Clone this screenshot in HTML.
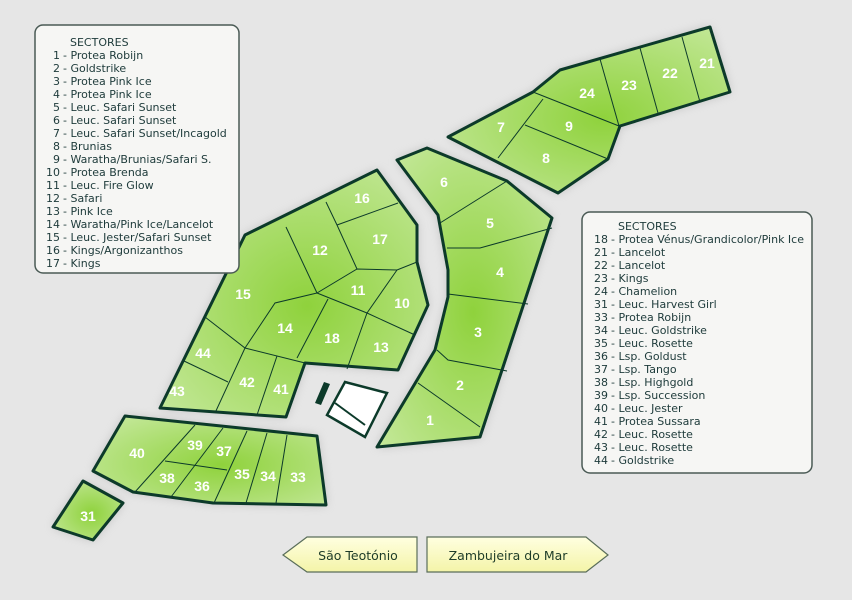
<!DOCTYPE html>
<html><head><meta charset="utf-8"><style>
html,body{margin:0;padding:0;background:#e6e6e6;}
svg{display:block;}
.l{font-family:"DejaVu Sans","Liberation Sans",sans-serif;font-size:11px;fill:#1d3a3a;}
.n{font-family:"Liberation Sans",sans-serif;font-weight:bold;font-size:14px;fill:#fff;text-anchor:middle;}
.b{font-family:"DejaVu Sans","Liberation Sans",sans-serif;font-size:12.5px;fill:#1e3c28;text-anchor:middle;}
</style></head><body>
<svg width="852" height="600" viewBox="0 0 852 600" xmlns="http://www.w3.org/2000/svg">
<defs>
<radialGradient id="g" cx="0.55" cy="0.55" r="0.7"><stop offset="0" stop-color="#8fd23c"/><stop offset="1" stop-color="#c4e89a"/></radialGradient>
<linearGradient id="y" x1="0" y1="0" x2="0" y2="1"><stop offset="0" stop-color="#ffffe0"/><stop offset="1" stop-color="#f4f4a8"/></linearGradient>
<filter id="sh" x="-10%" y="-10%" width="120%" height="120%"><feGaussianBlur stdDeviation="5"/></filter>
</defs>
<rect width="852" height="600" fill="#e6e6e6"/>
<g fill="#9a9a9a" opacity="0.55" filter="url(#sh)">
<polygon points="377,170 417,225 417,262 428,305 398,370 305,363 286,417 160,408 245,235"/>
<polygon points="125,416 317,436 326,505 213,503 133,492 93,471"/>
<polygon points="83,481 123,503 93,540 53,527"/>
<polygon points="710,27 730,92 620,126 608,159 558,193 448,137 533,92 560,70"/>
<polygon points="427,148 507,181 552,218 480,437 377,447 435,350 448,297 448,270 438,215 397,160"/>
</g>
<g stroke="#0c3a2a" stroke-width="3" stroke-linejoin="round" fill="url(#g)">
<polygon points="377,170 417,225 417,262 428,305 398,370 305,363 286,417 160,408 245,235"/>
<polygon points="125,416 317,436 326,505 213,503 133,492 93,471"/>
<polygon points="83,481 123,503 93,540 53,527"/>
<polygon points="710,27 730,92 620,126 608,159 558,193 448,137 533,92 560,70"/>
<polygon points="427,148 507,181 552,218 480,437 377,447 435,350 448,297 448,270 438,215 397,160"/>
</g>
<g stroke="#0c3a2a" stroke-width="1" fill="none">
<polyline points="337,225 398,203"/>
<polyline points="326,202 337,225 357,269"/>
<polyline points="286,227 317,293"/>
<polyline points="317,293 357,269 397,270 417,262"/>
<polyline points="397,270 367,313"/>
<polyline points="317,293 367,313 415,335"/>
<polyline points="317,293 275,303 245,348"/>
<polyline points="328,299 297,358"/>
<polyline points="367,313 347,369"/>
<polyline points="205,317 245,348 305,363"/>
<polyline points="184,361 228,382"/>
<polyline points="245,348 215,413"/>
<polyline points="277,356 257,415"/>
<polyline points="195,425 135,492"/>
<polyline points="223,428 171,497"/>
<polyline points="247,431 214,503"/>
<polyline points="267,433 246,503"/>
<polyline points="287,435 276,503"/>
<polyline points="165,461 227,470"/>
<polyline points="682,37 700,102"/>
<polyline points="640,48 658,113"/>
<polyline points="600,59 619,126"/>
<polyline points="533,92 619,126"/>
<polyline points="543,99 498,158"/>
<polyline points="525,125 608,159"/>
<polyline points="507,181 440,223"/>
<polyline points="447,248 480,248 552,228"/>
<polyline points="448,294 528,304"/>
<polyline points="437,350 448,360 507,371"/>
<polyline points="418,383 480,427"/>
</g>
<polygon points="315,403 321,405 330,384 324,382" fill="#0c3a2a"/>
<polygon points="345,382 387,393 365,437 327,415" fill="#fff" stroke="#0c3a2a" stroke-width="2.5"/>
<line x1="335" y1="403" x2="365" y2="425" stroke="#0c3a2a" stroke-width="2"/>
<g class="n">
<text x="362" y="203">16</text><text x="320" y="255">12</text><text x="380" y="244">17</text>
<text x="358" y="295">11</text><text x="402" y="308">10</text><text x="243" y="299">15</text>
<text x="285" y="333">14</text><text x="332" y="343">18</text><text x="381" y="352">13</text>
<text x="203" y="358">44</text><text x="177" y="396">43</text><text x="247" y="387">42</text>
<text x="281" y="394">41</text>
<text x="137" y="458">40</text><text x="195" y="450">39</text><text x="224" y="456">37</text>
<text x="167" y="483">38</text><text x="202" y="491">36</text><text x="242" y="479">35</text>
<text x="268" y="481">34</text><text x="298" y="482">33</text><text x="88" y="521">31</text>
<text x="707" y="68">21</text><text x="670" y="78">22</text><text x="629" y="90">23</text>
<text x="587" y="98">24</text><text x="569" y="131">9</text><text x="501" y="132">7</text>
<text x="546" y="163">8</text>
<text x="444" y="187">6</text><text x="490" y="228">5</text><text x="500" y="277">4</text>
<text x="478" y="337">3</text><text x="460" y="390">2</text><text x="430" y="425">1</text>
</g>
<rect x="35" y="25" width="204" height="248" rx="8" fill="#f6f6f4" stroke="#4a5a55" stroke-width="1.5"/>
<g class="l">
<text x="70" y="46">SECTORES</text>
<g text-anchor="end">
<text x="60" y="59">1</text><text x="60" y="72">2</text><text x="60" y="85">3</text><text x="60" y="98">4</text><text x="60" y="111">5</text><text x="60" y="124">6</text><text x="60" y="137">7</text><text x="60" y="150">8</text><text x="60" y="163">9</text><text x="60" y="176">10</text><text x="60" y="189">11</text><text x="60" y="202">12</text><text x="60" y="215">13</text><text x="60" y="228">14</text><text x="60" y="241">15</text><text x="60" y="254">16</text><text x="60" y="267">17</text>
</g>
<text x="63" y="59">- Protea Robijn</text><text x="63" y="72">- Goldstrike</text><text x="63" y="85">- Protea Pink Ice</text><text x="63" y="98">- Protea Pink Ice</text><text x="63" y="111">- Leuc. Safari Sunset</text><text x="63" y="124">- Leuc. Safari Sunset</text><text x="63" y="137">- Leuc. Safari Sunset/Incagold</text><text x="63" y="150">- Brunias</text><text x="63" y="163">- Waratha/Brunias/Safari S.</text><text x="63" y="176">- Protea Brenda</text><text x="63" y="189">- Leuc. Fire Glow</text><text x="63" y="202">- Safari</text><text x="63" y="215">- Pink Ice</text><text x="63" y="228">- Waratha/Pink Ice/Lancelot</text><text x="63" y="241">- Leuc. Jester/Safari Sunset</text><text x="63" y="254">- Kings/Argonizanthos</text><text x="63" y="267">- Kings</text>
</g>
<rect x="582" y="212" width="230" height="261" rx="8" fill="#f6f6f4" stroke="#4a5a55" stroke-width="1.5"/>
<g class="l">
<text x="618" y="230">SECTORES</text>
<g text-anchor="end">
<text x="608" y="243">18</text><text x="608" y="256">21</text><text x="608" y="269">22</text><text x="608" y="282">23</text><text x="608" y="295">24</text><text x="608" y="308">31</text><text x="608" y="321">33</text><text x="608" y="334">34</text><text x="608" y="347">35</text><text x="608" y="360">36</text><text x="608" y="373">37</text><text x="608" y="386">38</text><text x="608" y="399">39</text><text x="608" y="412">40</text><text x="608" y="425">41</text><text x="608" y="438">42</text><text x="608" y="451">43</text><text x="608" y="464">44</text>
</g>
<text x="611" y="243">- Protea Vénus/Grandicolor/Pink Ice</text><text x="611" y="256">- Lancelot</text><text x="611" y="269">- Lancelot</text><text x="611" y="282">- Kings</text><text x="611" y="295">- Chamelion</text><text x="611" y="308">- Leuc. Harvest Girl</text><text x="611" y="321">- Protea Robijn</text><text x="611" y="334">- Leuc. Goldstrike</text><text x="611" y="347">- Leuc. Rosette</text><text x="611" y="360">- Lsp. Goldust</text><text x="611" y="373">- Lsp. Tango</text><text x="611" y="386">- Lsp. Highgold</text><text x="611" y="399">- Lsp. Succession</text><text x="611" y="412">- Leuc. Jester</text><text x="611" y="425">- Protea Sussara</text><text x="611" y="438">- Leuc. Rosette</text><text x="611" y="451">- Leuc. Rosette</text><text x="611" y="464">- Goldstrike</text>
</g>
<polygon points="283,555 307,537 417,537 417,572 307,572" fill="url(#y)" stroke="#5a6e5a" stroke-width="1.2"/>
<polygon points="427,537 586,537 608,555 586,572 427,572" fill="url(#y)" stroke="#5a6e5a" stroke-width="1.2"/>
<text class="b" x="358" y="560">São Teotónio</text>
<text class="b" x="508" y="560">Zambujeira do Mar</text>
</svg>
</body></html>
